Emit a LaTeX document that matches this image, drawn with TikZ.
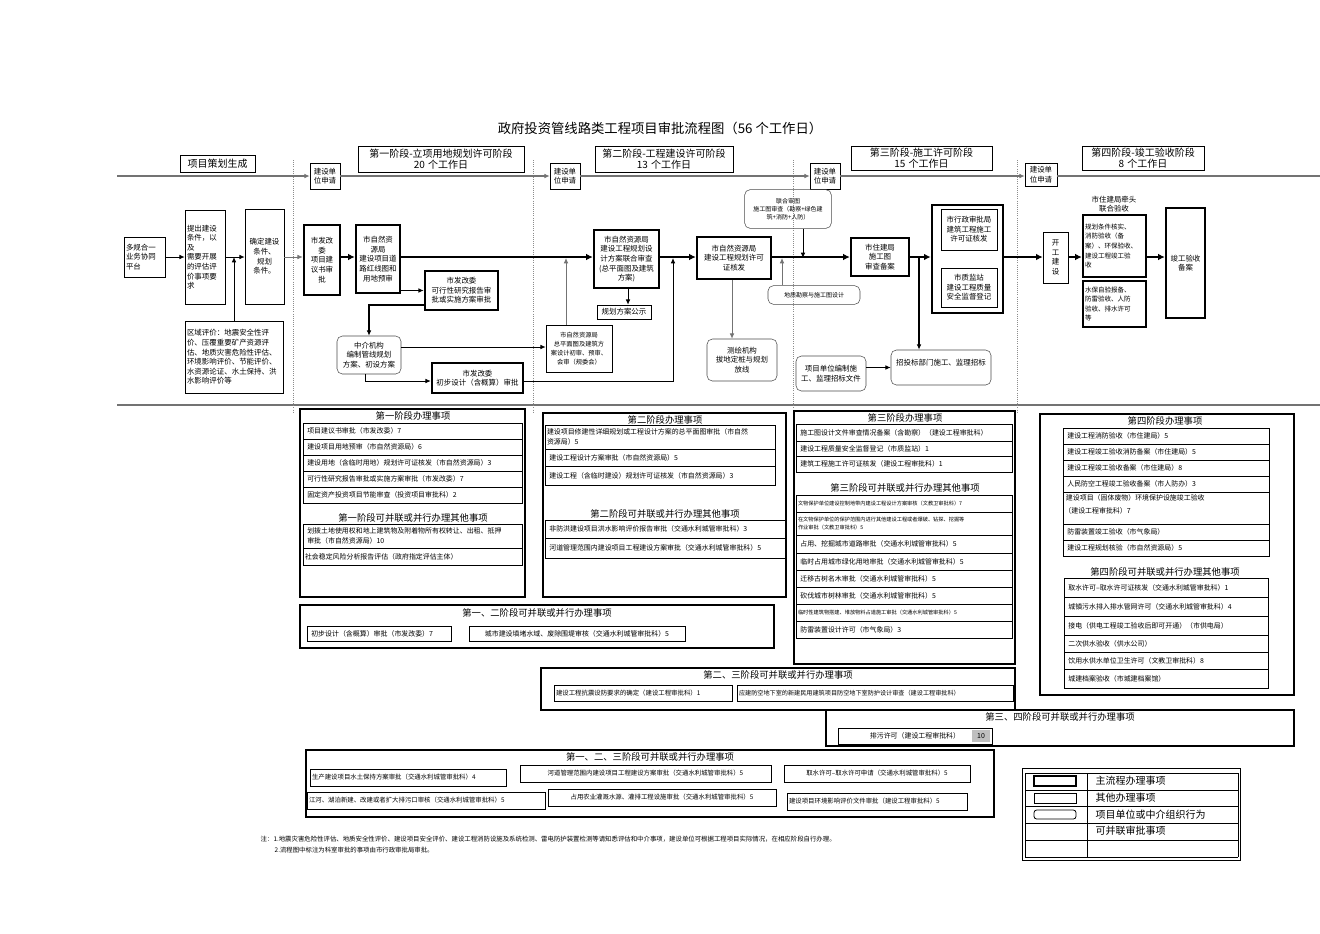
\documentclass[tikz,border=0pt]{standalone}
\usepackage{fontspec}
\setmainfont{Noto Sans CJK SC}
\XeTeXlinebreaklocale "zh"
\XeTeXlinebreakskip=0pt
\usetikzlibrary{arrows.meta,calc}
\newcommand\bx[7]{\pgfmathsetmacro\bw{(#5-#3)*0.75}\pgfmathsetmacro\bh{(#6-#4)*0.75}\pgfmathsetmacro\tw{max((#5-#3)*0.75-3,1)}\node[#2, minimum width=\bw pt, minimum height=\bh pt, text width=\tw pt, inner xsep=1.5pt, inner ysep=0.5pt] (#1) at ({(#3+#5)/2},{(#4+#6)/2}) {#7};}
\begin{document}
\begin{tikzpicture}[x=0.75pt,y=-0.75pt,
  fb/.style={draw,align=center,font=\fontsize{5.6}{7.2}\selectfont},
  fbl/.style={draw,align=left,font=\fontsize{5.6}{7.2}\selectfont},
  mb/.style={fb,line width=1.8pt},
  mbl/.style={fbl,line width=1.8pt,font=\fontsize{4.9}{7.2}\selectfont},
  rb/.style={fb,rounded corners=4pt,draw=black!70},
  hb/.style={draw,align=center,font=\fontsize{7.5}{8.4}\selectfont},
  frame/.style={draw,line width=0.8pt},
  cell/.style={draw,line width=0.6pt,align=left,font=\fontsize{5.2}{7}\selectfont},
  tcell/.style={draw,line width=0.6pt,align=left,font=\fontsize{3.9}{5.6}\selectfont},
  ttl/.style={font=\fontsize{7}{8}\selectfont},
  arr/.style={-{Latex[length=4pt,width=3.5pt]},line width=0.7pt},
  garr/.style={arr,draw=black!55},
  main/.style={-{Latex[length=5pt,width=5pt]},line width=1.8pt},
  dotl/.style={draw=black!45,densely dotted,line width=0.6pt}]
\useasboundingbox (0,0) rectangle (1320,933);
\fill[white] (0,0) rectangle (1320,933);
\node[font=\fontsize{10}{11}\selectfont] (title) at (660,128) {政府投资管线路类工程项目审批流程图（56 个工作日）};
% lines
\draw[draw=black!55,line width=1pt] (117,405) -- (1320,405);
\foreach \xx in {293,533,793,1017} \draw[dotl] (\xx,160) -- (\xx,412);
% headers
\bx{h0}{hb}{180}{155}{255}{172}{项目策划生成}
\bx{h1}{hb}{358}{146}{524}{172}{第一阶段-立项用地规划许可阶段\\20 个工作日}
\bx{h2}{hb}{595}{146}{733}{172}{第二阶段-工程建设许可阶段\\13 个工作日}
\bx{h3}{hb}{851}{146}{992}{170}{第三阶段-施工许可阶段\\15 个工作日}
\bx{h4}{hb}{1082}{146}{1204}{170}{第四阶段-竣工验收阶段\\8 个工作日}
\bx{s1}{fb}{310}{163}{340}{189}{建设单\\位申请}
\bx{s2}{fb}{550}{163}{580}{189}{建设单\\位申请}
\bx{s3}{fb}{810}{163}{840}{189}{建设单\\位申请}
\bx{s4}{fb}{1025}{163}{1057}{186}{建设单\\位申请}
\coordinate (L0) at (117,176);
\coordinate (L1) at (1320,176);
\draw[garr,line width=1.2pt] (L0) -- (s1.west |- L0);
\draw[garr,line width=1.2pt] (s1.east |- L0) -- (s2.west |- L0);
\draw[garr,line width=1.2pt] (s2.east |- L0) -- (s3.west |- L0);
\draw[garr,line width=1.2pt] (s3.east |- L0) -- (s4.west |- L0);
\draw[draw=black!55,line width=1.2pt] (s4.east |- L0) -- (L1);
% flow
\bx{n1}{fbl}{124}{237}{165}{277}{多规合一\\业务协同\\平台}
\bx{n2}{fbl}{185}{210}{225}{304}{提出建设\\条件，以及\\需要开展\\的评估评\\价事项要\\求}
\bx{n3}{fb}{245}{209}{284}{304}{确定建设\\条件、规划\\条件。}
\bx{n4}{fbl}{185}{321}{283}{393}{区域评价：地震安全性评价、压覆重要矿产资源评估、地质灾害危险性评估、环境影响评价、节能评价、水资源论证、水土保持、洪水影响评价等}
\bx{n5}{mb}{304}{225}{340}{295}{市发改\\委\\项目建\\议书审\\批}
\bx{n6}{mb}{356}{225}{400}{293}{市自然资\\源局\\建设项目道\\路红线图和\\用地预审}
\bx{n7}{mb}{425}{271}{498}{310}{市发改委\\可行性研究报告审\\批或实施方案审批}
\bx{n8}{rb}{337}{336}{401}{374}{中介机构\\编制管线规划\\方案、初设方案}
\bx{n9}{mb}{432}{363}{523}{393}{市发改委\\初步设计（含概算）审批}
\bx{n10}{mb}{594}{230}{659}{288}{市自然资源局\\建设工程规划设\\计方案联合审查\\(总平面图及建筑\\方案)}
\bx{n11}{fb}{597}{305}{651}{319}{规划方案公示}
\bx{n12}{fb,font=\fontsize{4.7}{6.6}\selectfont}{546}{325}{612}{372}{市自然资源局\\总平面图及建筑方\\案设计初审、预审、\\会审（规委会）}
\bx{n13}{mb}{697}{237}{771}{279}{市自然资源局\\建设工程规划许可\\证核发}
\bx{n14}{rb}{707}{339}{777}{381}{测绘机构\\拔地定桩与规划\\放线}
\node[rb,font=\fontsize{4.5}{6}\selectfont,minimum width=65pt,minimum height=29pt] (n15) at (788,209) {联合审图\\施工图审查（勘察+绿色建\\筑+消防+人防）};
\node[rb,font=\fontsize{4.5}{6}\selectfont,minimum width=69pt,minimum height=14pt] (n16) at (814,295) {地质勘察与施工图设计};
\bx{n17}{mb}{851}{238}{909}{276}{市住建局\\施工图\\审查备案}
\bx{n18}{rb}{796}{356}{866}{391}{项目单位编制施\\工、监理招标文件}
\bx{n19}{rb}{891}{350}{991}{385}{招投标部门施工、监理招标\\\mbox{}}
\bx{n20}{draw,line width=2pt}{932}{205}{1003}{313}{}
\bx{n21}{fb}{941}{209}{997}{250}{市行政审批局\\建筑工程施工\\许可证核发}
\bx{n22}{fb}{941}{268}{997}{307}{市质监站\\建设工程质量\\安全监督登记}
\bx{n23}{fb}{1043}{232}{1068}{283}{开\\工\\建\\设}
\node[font=\fontsize{5.6}{7.2}\selectfont,align=center] (n24) at (1114,204) {市住建局牵头\\联合验收};
\bx{n25}{mbl}{1083}{215}{1146}{277}{规划条件核实、\\消防验收（备\\案）、环保验收、\\建设工程竣工验\\收}
\bx{n26}{mbl}{1083}{281}{1146}{327}{水保自验报备、\\防雷验收、人防\\验收、排水许可\\等}
\bx{n27}{mb}{1166}{208}{1205}{318}{竣工验收\\备案}
% connectors
\coordinate (M) at (0,257);
\draw[arr] (n1) -- (n2.west |- n1);
\draw[arr] (n2.east |- M) -- (n3.west |- M);
\draw[garr] (n3.east |- M) -- (n5.west |- M);
\draw[arr] (n4.north -| 234,0) -- (234,257);
\draw[main] (n5.east |- M) -- (n6.west |- M);
\draw[main] (n6.east |- M) -- (n10.west |- M);
\draw[arr,line width=1.2pt] (n6.east |- n7) -- (n7.west);
\draw[arr,line width=1.2pt] (n7.south west |- 0,305) -| (n8.north -| 369,0);
\draw[arr] (n8.south -| 365,0) |- (n9.west |- 0,381);
\draw[arr] (n8.east |- 0,347) -- (n12.west |- 0,347);
\draw[arr] (n9.east |- 0,381) -| (673,258);
\draw[garr] (n12.north -| 566,0) -- (566,258);
\draw[arr] (n10.south -| 628,0) -- (n11.north -| 628,0);
\draw[main] (n10.east |- M) -- (n13.west |- M);
\draw[garr] (n13.south -| 732,0) -- (n14.north -| 732,0);
\draw[main] (n13.east |- M) -- (n17.west |- M);
\draw[arr] (n15.south -| 803,0) -- (803,258);
\draw[garr] (n16.north -| 782,0) -- (782,258);
\draw[main] (n17.east |- M) -- (n20.west |- M);
\draw[arr,line width=1.2pt] (919,257) -- (n19.north -| 919,0);
\draw[arr] (n18.east |- n19) -- (n19.west);
\draw[main] (n20.east |- M) -- (n23.west |- M);
\draw[main] (n23.east |- M) -- (n25.west |- M);
\draw[main] (n25.east |- M) -- (n27.west |- M);
% stage 1
\bx{t1}{frame}{300}{409}{525}{597}{}
\node[ttl] (t1a) at (413,416) {第一阶段办理事项};
\bx{c11}{cell}{303}{423}{522}{439}{\ 项目建议书审批（市发改委）7}
\bx{c12}{cell}{303}{439}{522}{455}{\ 建设项目用地预审（市自然资源局）6}
\bx{c13}{cell}{303}{455}{522}{471}{\ 建设用地（含临时用地）规划许可证核发（市自然资源局）3}
\bx{c14}{cell}{303}{471}{522}{487}{\ 可行性研究报告审批或实施方案审批（市发改委）7}
\bx{c15}{cell}{303}{487}{522}{503}{\ 固定资产投资项目节能审查（投资项目审批科）2}
\node[ttl] (t1b) at (413,518) {第一阶段可并联或并行办理其他事项};
\bx{c16}{cell}{303}{524}{522}{548}{\ 划拨土地使用权和地上建筑物及附着物所有权转让、出租、抵押\\\ 审批（市自然资源局）10}
\bx{c17}{cell}{303}{548}{522}{565}{社会稳定风险分析报告评估（政府指定评估主体）}
% stage 2
\bx{t2}{frame}{543}{413}{786}{597}{}
\node[ttl] (t2a) at (665,420) {第二阶段办理事项};
\bx{c21}{cell}{545}{425}{775}{449}{建设项目修建性详细规划或工程设计方案的总平面图审批（市自然\\资源局）5}
\bx{c22}{cell}{545}{449}{775}{466}{\ 建设工程设计方案审批（市自然资源局）5}
\bx{c23}{cell}{545}{466}{775}{485}{\ 建设工程（含临时建设）规划许可证核发（市自然资源局）3}
\node[ttl] (t2b) at (665,514) {第二阶段可并联或并行办理其他事项};
\bx{c24}{cell}{545}{520}{785}{538}{\ 非防洪建设项目洪水影响评价报告审批（交通水利城管审批科）3}
\bx{c25}{cell}{545}{538}{785}{558}{\ 河道管理范围内建设项目工程建设方案审批（交通水利城管审批科）5}
% stage 1-2
\bx{t12}{frame}{300}{605}{774}{648}{}
\node[ttl] (t12a) at (537,613) {第一、二阶段可并联或并行办理事项};
\bx{c121}{cell}{307}{626}{451}{641}{\ 初步设计（含概算）审批（市发改委）7}
\bx{c122}{cell,align=center}{469}{626}{685}{641}{城市建设填堵水域、废除围堤审核（交通水利城管审批科）5}
% stage 3
\bx{t3}{frame}{794}{411}{1015}{664}{}
\node[ttl] (t3a) at (905,418) {第三阶段办理事项};
\bx{c31}{cell}{796}{424}{1012}{441}{\ 施工图设计文件审查情况备案（含勘察）（建设工程审批科）}
\bx{c32}{cell}{796}{441}{1012}{456}{\ 建设工程质量安全监督登记（市质监站）1}
\bx{c33}{cell}{796}{456}{1012}{472}{\ 建筑工程施工许可证核发（建设工程审批科）1}
\node[ttl] (t3b) at (905,488) {第三阶段可并联或并行办理其他事项};
\bx{c34}{tcell}{796}{495}{1012}{512}{文物保护单位建设控制地带内建设工程设计方案审核（文教卫审批科）7}
\bx{c35}{tcell}{796}{512}{1012}{535}{在文物保护单位的保护范围内进行其他建设工程或者爆破、钻探、挖掘等\\作业审批（文教卫审批科）5}
\bx{c36}{cell}{796}{535}{1012}{553}{\ 占用、挖掘城市道路审批（交通水利城管审批科）5}
\bx{c37}{cell}{796}{553}{1012}{570}{\ 临时占用城市绿化用地审批（交通水利城管审批科）5}
\bx{c38}{cell}{796}{570}{1012}{587}{\ 迁移古树名木审批（交通水利城管审批科）5}
\bx{c39}{cell}{796}{587}{1012}{604}{\ 砍伐城市树林审批（交通水利城管审批科）5}
\bx{c310}{tcell}{796}{604}{1012}{621}{临时性建筑物搭建、堆放物料占道施工审批（交通水利城管审批科）5}
\bx{c311}{cell}{796}{621}{1012}{638}{\ 防雷装置设计许可（市气象局）3}
% stage 4
\bx{t4}{frame}{1040}{414}{1294}{695}{}
\node[ttl] (t4a) at (1165,421) {第四阶段办理事项};
\bx{c41}{cell}{1063}{428}{1269}{444}{\ 建设工程消防验收（市住建局）5}
\bx{c42}{cell}{1063}{444}{1269}{460}{\ 建设工程竣工验收消防备案（市住建局）5}
\bx{c43}{cell}{1063}{460}{1269}{476}{\ 建设工程竣工验收备案（市住建局）8}
\bx{c44}{cell}{1063}{476}{1269}{492}{\ 人民防空工程竣工验收备案（市人防办）3}
\node[cell,draw=none,anchor=north west,inner sep=0pt] (c45t) at (1064,494) {\ 建设项目（固体废物）环境保护设施竣工验收\\[3pt]（建设工程审批科）7};
\bx{c45}{cell}{1063}{492}{1269}{524}{}
\bx{c46}{cell}{1063}{524}{1269}{540}{\ 防雷装置竣工验收（市气象局）}
\bx{c47}{cell}{1063}{540}{1269}{556}{\ 建设工程规划核验（市自然资源局）5}
\node[ttl] (t4b) at (1165,572) {第四阶段可并联或并行办理其他事项};
\bx{c48}{cell}{1064}{578}{1268}{597}{\ 取水许可--取水许可证核发（交通水利城管审批科）1}
\bx{c49}{cell}{1064}{597}{1268}{616}{\ 城镇污水排入排水管网许可（交通水利城管审批科）4}
\bx{c410}{cell}{1064}{616}{1268}{635}{\ 接电（供电工程竣工验收后即可开通）（市供电局）}
\bx{c411}{cell}{1064}{635}{1268}{652}{\ 二次供水验收（供水公司）}
\bx{c412}{cell}{1064}{652}{1268}{669}{\ 饮用水供水单位卫生许可（文教卫审批科）8}
\bx{c413}{cell}{1064}{669}{1268}{688}{\ 城建档案验收（市城建档案馆）}
% stage 2-3
\bx{t23}{frame}{541}{668}{1015}{710}{}
\node[ttl] (t23a) at (778,675) {第二、三阶段可并联或并行办理事项};
\bx{c231}{cell,font=\fontsize{4.8}{6}\selectfont}{554}{685}{732}{701}{建设工程抗震设防要求的确定（建设工程审批科）1}
\bx{c232}{tcell,font=\fontsize{4.6}{6}\selectfont}{737}{685}{1013}{701}{应建防空地下室的新建民用建筑项目防空地下室防护设计审查（建设工程审批科）}
% stage 3-4
\bx{t34}{frame}{826}{710}{1294}{746}{}
\node[ttl] (t34a) at (1060,717) {第三、四阶段可并联或并行办理事项};
\bx{c341}{cell,align=center}{838}{728}{992}{744}{排污许可（建设工程审批科）\hspace{14pt}}
\node[fill=black!25,minimum width=13pt,minimum height=9pt,inner sep=0pt,font=\fontsize{5.2}{6}\selectfont] (c342) at (981,736) {10};
% stage 1-2-3
\bx{t123}{frame}{306}{750}{994}{817}{}
\node[ttl] (t123a) at (650,757) {第一、二、三阶段可并联或并行办理事项};
\bx{c1231}{cell,font=\fontsize{4.8}{6}\selectfont}{310}{769}{506}{786}{生产建设项目水土保持方案审批（交通水利城管审批科）4}
\bx{c1232}{cell,align=center,font=\fontsize{4.8}{6}\selectfont}{520}{765}{771}{782}{河道管理范围内建设项目工程建设方案审批（交通水利城管审批科）5}
\bx{c1233}{cell,align=center,font=\fontsize{4.8}{6}\selectfont}{784}{765}{970}{782}{取水许可--取水许可申请（交通水利城管审批科）5}
\bx{c1234}{cell,font=\fontsize{4.8}{6}\selectfont}{307}{792}{545}{809}{江河、湖泊新建、改建或者扩大排污口审核（交通水利城管审批科）5}
\bx{c1235}{cell,align=center,font=\fontsize{4.8}{6}\selectfont}{548}{789}{776}{806}{占用农业灌溉水源、灌排工程设施审批（交通水利城管审批科）5}
\bx{c1236}{cell,font=\fontsize{4.8}{6}\selectfont}{787}{793}{967}{810}{建设项目环境影响评价文件审批（建设工程审批科）5}
% legend
\bx{lg}{draw,line width=0.6pt}{1022}{768}{1240}{860}{}
\foreach \yy in {773,790,806,823,840,857} \draw (1025,\yy) -- (1238,\yy);
\draw (1025,773) -- (1025,857) (1238,773) -- (1238,857) (1087,773) -- (1087,857);
\bx{lg1}{draw,line width=1.8pt}{1034}{776}{1076}{786}{}
\bx{lg2}{draw,line width=0.6pt}{1034}{793}{1076}{803}{}
\bx{lg3}{draw,line width=0.6pt,rounded corners=2pt}{1034}{810}{1076}{819}{}
\node[anchor=west,font=\fontsize{7.5}{8}\selectfont] (lt1) at (1091,781) {主流程办理事项};
\node[anchor=west,font=\fontsize{7.5}{8}\selectfont] (lt2) at (1091,798) {其他办理事项};
\node[anchor=west,font=\fontsize{7.5}{8}\selectfont] (lt3) at (1091,815) {项目单位或中介组织行为};
\node[anchor=west,font=\fontsize{7.5}{8}\selectfont] (lt4) at (1091,831) {可并联审批事项};
% notes
\node[anchor=west,font=\fontsize{4.8}{6}\selectfont] (nt1) at (256,839) {注：1.地震灾害危险性评估、地质安全性评价、建设项目安全评价、建设工程消防设施及系统检测、雷电防护装置检测等请知悉评估和中介事项，建设单位可根据工程项目实际情况，在相应阶段自行办理。};
\node[anchor=west,font=\fontsize{4.8}{6}\selectfont] (nt2) at (270,850) {2.流程图中标注为科室审批的事项由市行政审批局审批。};
\end{tikzpicture}
\end{document}
